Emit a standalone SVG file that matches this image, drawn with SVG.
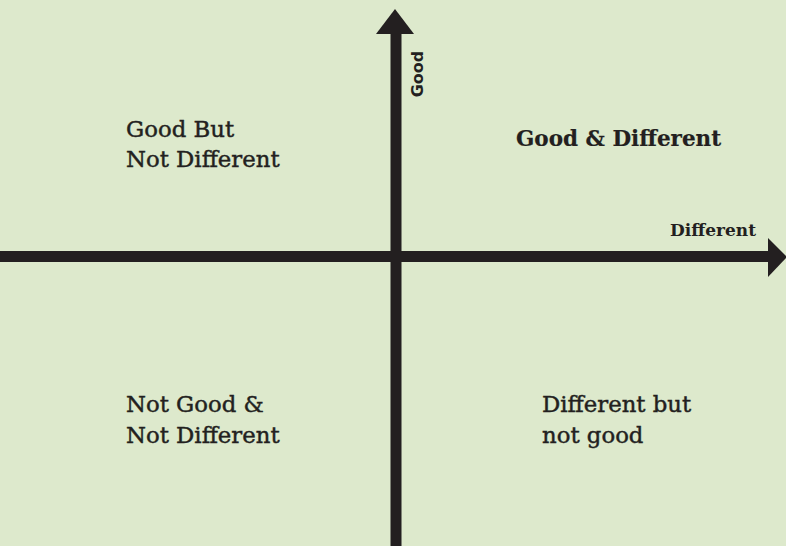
<svg xmlns="http://www.w3.org/2000/svg" width="786" height="546" viewBox="0 0 786 546">
<style>
.lbl{font-family:"DejaVu Serif","Liberation Serif",serif;font-size:22.8px;fill:#231f20;stroke:#231f20;stroke-width:0.45}
.b{font-weight:bold;font-size:21.5px;stroke-width:0.2}
.ax{font-family:"DejaVu Serif","Liberation Serif",serif;font-size:17px;font-weight:bold;fill:#231f20}
.axs{font-family:"DejaVu Sans","Liberation Sans",sans-serif;font-size:16px;font-weight:bold;fill:#231f20}
</style>
<rect width="786" height="546" fill="#dde9cc"/>
<g id="axes">
<rect x="390.5" y="30" width="11" height="516" fill="#231f20"/>
<polygon points="376,34 414,34 395,9" fill="#231f20"/>
<rect x="0" y="251" width="772" height="11" fill="#231f20"/>
<polygon points="768,238 768,277 787,257" fill="#231f20"/>
</g>
<g id="axis-labels">
<text class="axs" transform="translate(423,74) rotate(-90)" text-anchor="middle">Good</text>
<text class="ax" x="756" y="236" text-anchor="end">Different</text>
</g>
<g id="q-top-left"><text class="lbl" x="126" y="137">Good But</text><text class="lbl" x="126" y="167">Not Different</text></g>
<g id="q-top-right"><text class="lbl b" x="516" y="146">Good &amp; Different</text></g>
<g id="q-bottom-left"><text class="lbl" x="126" y="412">Not Good &amp;</text><text class="lbl" x="126" y="443">Not Different</text></g>
<g id="q-bottom-right"><text class="lbl" x="542" y="412">Different but</text><text class="lbl" x="542" y="443">not good</text></g>
</svg>
